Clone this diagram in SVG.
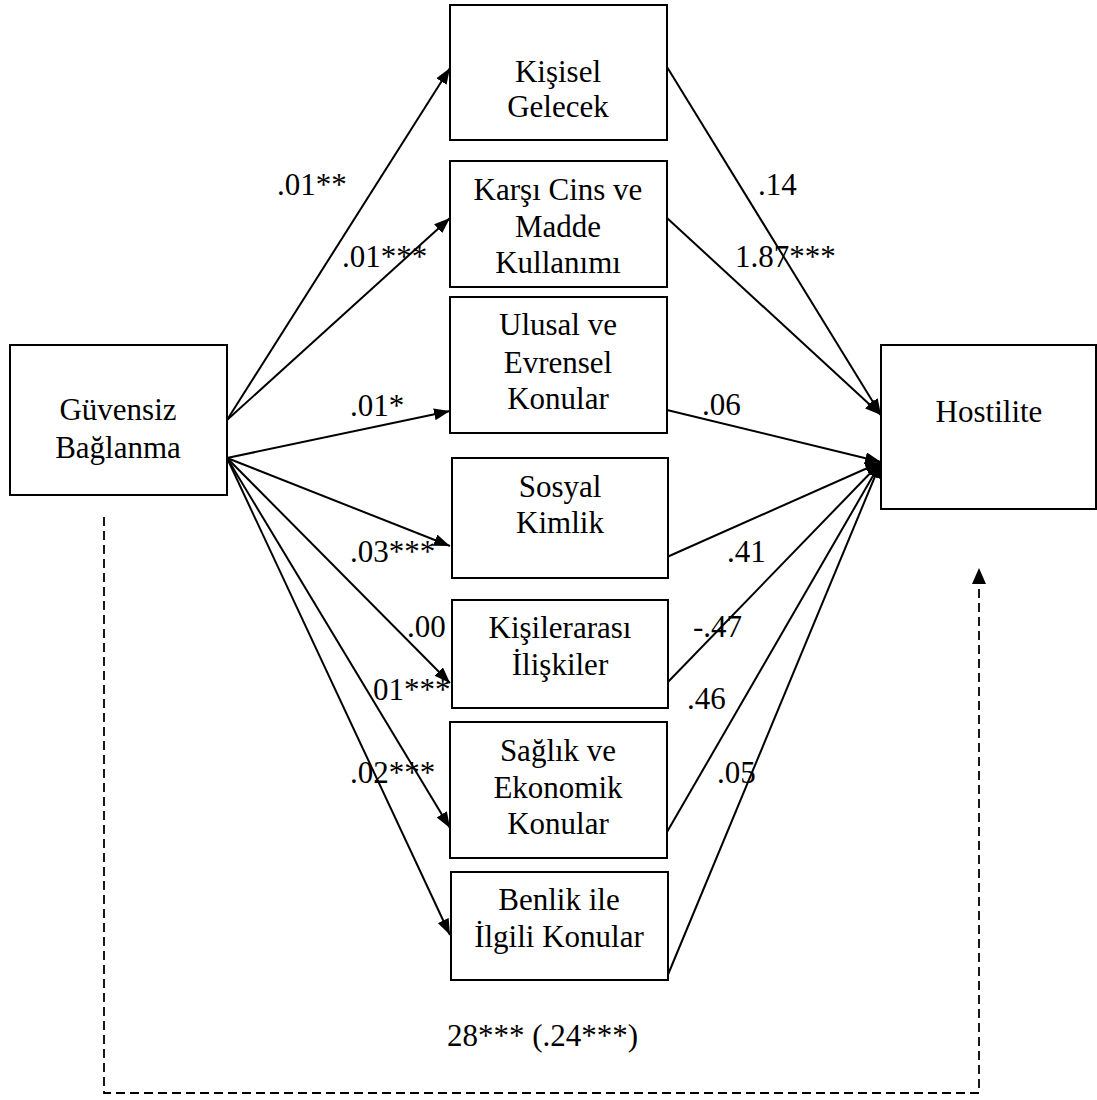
<svg xmlns="http://www.w3.org/2000/svg" width="1097" height="1100" viewBox="0 0 1097 1100">
<style>
.box{fill:#fff;stroke:#000;stroke-width:2}
text{font-family:Liberation Serif,Times New Roman,Tinos,DejaVu Serif,serif;font-size:31px;fill:#000}
.t{text-anchor:middle}
.e{stroke:#000;stroke-width:2;fill:none;marker-end:url(#ah)}
.d{stroke:#000;stroke-width:1.8;fill:none;stroke-dasharray:9 5}
</style>
<defs>
<marker id="ah" viewBox="0 0 16 12" refX="16" refY="6" markerWidth="16" markerHeight="12" markerUnits="userSpaceOnUse" orient="auto">
<path d="M0,0 L16,6 L0,12 z" fill="#000"/>
</marker>
</defs>
<rect width="1097" height="1100" fill="#fff"/>
<g id="connectors">
<line class="e" x1="227" y1="420" x2="450" y2="68"/>
<line class="e" x1="227" y1="420" x2="450" y2="218"/>
<line class="e" x1="227" y1="458" x2="450" y2="411"/>
<line class="e" x1="227" y1="458" x2="450" y2="546"/>
<line class="e" x1="227" y1="458" x2="450" y2="683"/>
<line class="e" x1="227" y1="458" x2="450" y2="828"/>
<line class="e" x1="227" y1="458" x2="450" y2="935"/>
<line class="e" x1="667" y1="67" x2="881" y2="415"/>
<line class="e" x1="667" y1="218" x2="881" y2="415"/>
<line class="e" x1="667" y1="410" x2="881" y2="462"/>
<line class="e" x1="667" y1="557" x2="881" y2="462"/>
<line class="e" x1="667" y1="683" x2="881" y2="462"/>
<line class="e" x1="667" y1="832" x2="881" y2="462"/>
<line class="e" x1="667" y1="977" x2="881" y2="462"/>
<path class="d" d="M104,517 L104,1093 L979,1093 L979,585"/>
<path d="M972,584 L979,568 L986,584 z" fill="#000"/>
<text font-family="Liberation Serif" x="277" y="195">.01**</text>
<text font-family="Liberation Serif" x="342" y="267">.01***</text>
<text font-family="Liberation Serif" x="758" y="195">.14</text>
<text font-family="Liberation Serif" x="735" y="267">1.87***</text>
<text font-family="Liberation Serif" x="350" y="416">.01*</text>
<text font-family="Liberation Serif" x="702" y="415">.06</text>
<text font-family="Liberation Serif" x="350" y="562">.03***</text>
<text font-family="Liberation Serif" x="727" y="562">.41</text>
<text font-family="Liberation Serif" x="407" y="637">.00</text>
<text font-family="Liberation Serif" x="693" y="637">-.47</text>
<text font-family="Liberation Serif" x="373" y="700">01***</text>
<text font-family="Liberation Serif" x="687" y="709">.46</text>
<text font-family="Liberation Serif" x="350" y="783">.02***</text>
<text font-family="Liberation Serif" x="717" y="783">.05</text>
<text font-family="Liberation Serif" x="447" y="1046">28*** (.24***)</text>
</g>
<g id="guvensiz">
<rect class="box" x="10" y="345" width="217" height="150"/>
<text class="t" x="118" y="420">Güvensiz</text>
<text class="t" x="118" y="458">Bağlanma</text>
</g>
<g id="kisisel">
<rect class="box" x="450" y="5" width="217" height="135"/>
<text class="t" x="558" y="82">Kişisel</text>
<text class="t" x="558" y="117">Gelecek</text>
</g>
<g id="karsi">
<rect class="box" x="450" y="161" width="217" height="126"/>
<text class="t" x="558" y="200">Karşı Cins ve</text>
<text class="t" x="558" y="237">Madde</text>
<text class="t" x="558" y="273">Kullanımı</text>
</g>
<g id="ulusal">
<rect class="box" x="450" y="297" width="217" height="136"/>
<text class="t" x="558" y="335">Ulusal ve</text>
<text class="t" x="558" y="373">Evrensel</text>
<text class="t" x="558" y="409">Konular</text>
</g>
<g id="sosyal">
<rect class="box" x="452" y="458" width="216" height="120"/>
<text class="t" x="560" y="497">Sosyal</text>
<text class="t" x="560" y="533">Kimlik</text>
</g>
<g id="kisilerarasi">
<rect class="box" x="452" y="600" width="216" height="108"/>
<text class="t" x="560" y="638">Kişilerarası</text>
<text class="t" x="560" y="675">İlişkiler</text>
</g>
<g id="saglik">
<rect class="box" x="450" y="722" width="217" height="136"/>
<text class="t" x="558" y="761">Sağlık ve</text>
<text class="t" x="558" y="798">Ekonomik</text>
<text class="t" x="558" y="834">Konular</text>
</g>
<g id="benlik">
<rect class="box" x="451" y="872" width="217" height="108"/>
<text class="t" x="559" y="910">Benlik ile</text>
<text class="t" x="559" y="947">İlgili Konular</text>
</g>
<g id="hostilite">
<rect class="box" x="881" y="345" width="215" height="164"/>
<text class="t" x="989" y="422">Hostilite</text>
</g>
</svg>
